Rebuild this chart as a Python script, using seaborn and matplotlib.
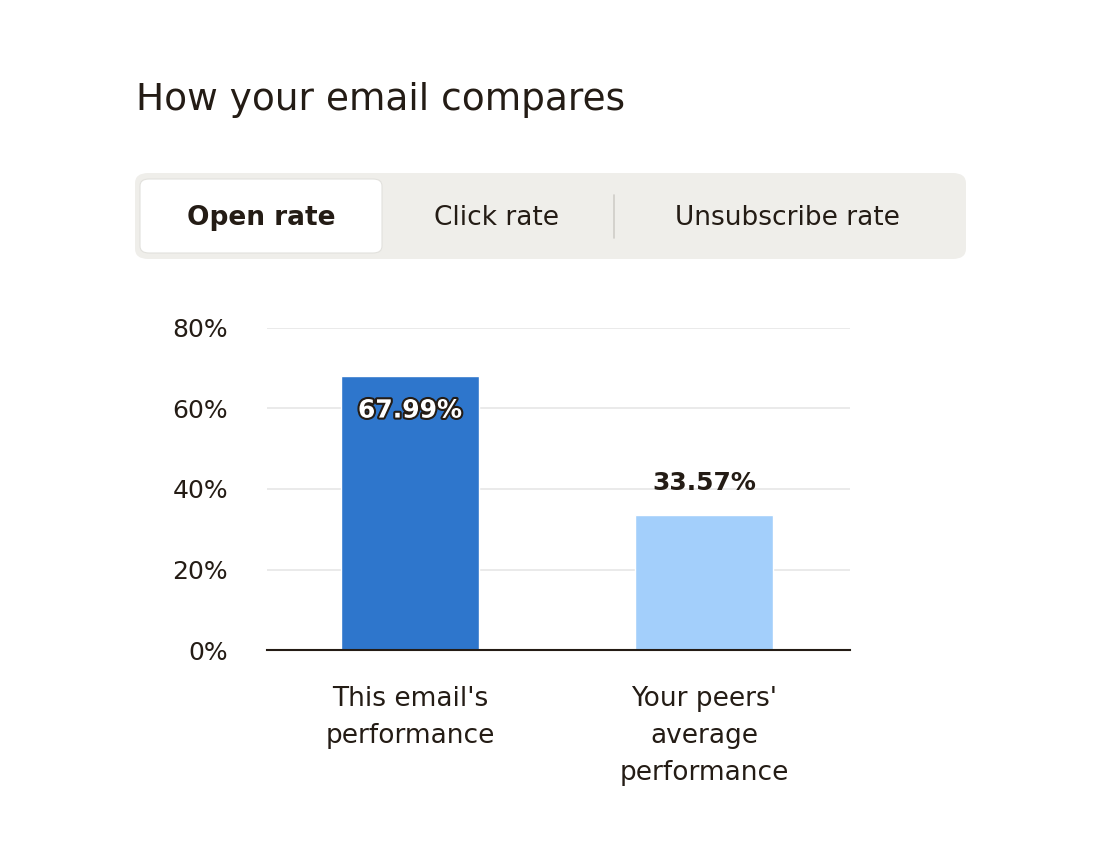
import matplotlib
matplotlib.use("Agg")
import matplotlib.pyplot as plt
import seaborn as sns
import pandas as pd
from matplotlib.patches import FancyBboxPatch
import matplotlib.patheffects as pe

# Data
categories = ["This email's\nperformance", "Your peers'\naverage\nperformance"]
rates = [67.99, 33.57]
bar_colors = ["#2E76CC", "#A3CFFB"]
yticks = [0, 20, 40, 60, 80]
tabs = ["Open rate", "Click rate", "Unsubscribe rate"]

sns.set_theme(style="white")
plt.rcParams['font.family'] = ['DejaVu Sans']

W, H = 1112, 856
fig = plt.figure(figsize=(W / 100, H / 100), dpi=100)
fig.patch.set_facecolor("white")

def fx(px): return px / W
def fy(py): return 1 - py / H

# Title
fig.text(fx(136), fy(100), "How your email compares", fontsize=27, color="#241C15",
         va="center", ha="left")

# Tab bar
fig.patches.append(FancyBboxPatch((fx(135), fy(259)), fx(966 - 135), (259 - 173) / H,
                                  boxstyle="round,pad=0,rounding_size=0.012",
                                  transform=fig.transFigure, facecolor="#EFEEEA",
                                  edgecolor="none"))
fig.patches.append(FancyBboxPatch((fx(140), fy(253)), fx(382 - 140), (253 - 179) / H,
                                  boxstyle="round,pad=0,rounding_size=0.008",
                                  transform=fig.transFigure, facecolor="white",
                                  edgecolor="#E2E1DD", linewidth=0.8))
fig.lines.append(plt.Line2D([fx(614), fx(614)], [fy(238), fy(195)],
                            transform=fig.transFigure, color="#CFCDC8", linewidth=1.2))
tab_x = [261, 497, 787]
for i, (t, x) in enumerate(zip(tabs, tab_x)):
    fig.text(fx(x), fy(218), t, fontsize=19, ha="center", va="center", color="#241C15",
             fontweight="bold" if i == 0 else "normal")

# Bar chart
ax = fig.add_axes([fx(267), fy(650), fx(850 - 267), (650 - 328) / H])
df = pd.DataFrame({"cat": categories, "rate": rates})
sns.barplot(data=df, x="cat", y="rate", hue="cat", palette=bar_colors, width=0.47,
            saturation=1, legend=False, ax=ax, zorder=3)
ax.set_xlim(-0.486, 1.497)
ax.set_ylim(0, 80)
ax.set_yticks(yticks)
ax.set_yticklabels([f"{v}%" for v in yticks], fontsize=18, color="#241C15")
ax.tick_params(axis="y", length=0, pad=28)
ax.tick_params(axis="x", length=0, pad=26, labelsize=19, labelcolor="#241C15")
for lab in ax.get_xticklabels():
    lab.set_linespacing(1.55)
ax.set_xlabel("")
ax.set_ylabel("")
ax.yaxis.grid(True, color="#E6E6E6", linewidth=1.2, zorder=0)
ax.xaxis.grid(False)
for s in ["top", "right", "left"]:
    ax.spines[s].set_visible(False)
ax.spines["bottom"].set_color("#241C15")
ax.spines["bottom"].set_linewidth(1.5)
ax.spines["bottom"].set_zorder(4)

ax.text(0, rates[0] - 8.5, f"{rates[0]:.2f}%", ha="center", va="center", fontsize=18,
        fontweight="bold", color="white",
        path_effects=[pe.withStroke(linewidth=3, foreground="#241C15")], zorder=5)
ax.text(1, rates[1] + 8, f"{rates[1]:.2f}%", ha="center", va="center", fontsize=18,
        fontweight="bold", color="#241C15", zorder=5)

fig.savefig("out.png", dpi=100)
